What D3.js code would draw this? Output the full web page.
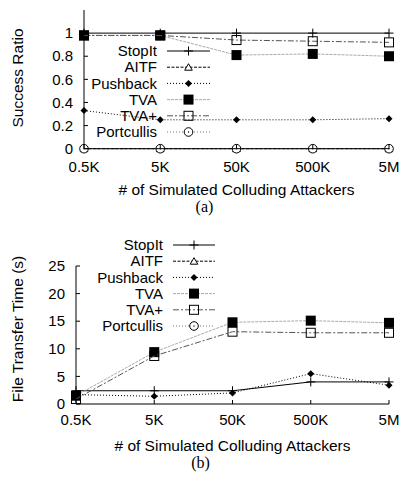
<!DOCTYPE html>
<html>
<head>
<meta charset="utf-8">
<script src="https://cdn.jsdelivr.net/npm/d3@7"></script>
<style>
  body { margin: 0; background: #fff; }
  svg { display: block; }
  text { font-family: "Liberation Sans", Arial, sans-serif; fill: #000; }
  .cap { font-family: "Liberation Serif", "Times New Roman", serif; }
</style>
</head>
<body>
<div id="chart"></div>
<script>
// categories on the x axis
const categories = ['0.5K', '5K', '50K', '500K', '5M'];
const seriesNames = ['StopIt', 'AITF', 'Pushback', 'TVA', 'TVA+', 'Portcullis'];

// (a) success ratio
const ratioStopIt = [1, 1, 1, 1, 1];
const ratioAITF = [0, 0, 0, 0, 0];
const ratioPushback = [0.33, 0.25, 0.25, 0.25, 0.26];
const ratioTVA = [0.98, 0.98, 0.81, 0.82, 0.80];
const ratioTVAplus = [0.98, 0.98, 0.94, 0.93, 0.92];
const ratioPortcullis = [0, 0, 0, 0, 0];
const ratioTicks = [0, 0.2, 0.4, 0.6, 0.8, 1];

// (b) file transfer time (s); AITF / Portcullis finish no transfers
const timeStopIt = [2.4, 2.4, 2.4, 4.0, 4.0];
const timeAITF = [null, null, null, null, null];
const timePushback = [1.7, 1.4, 2.0, 5.5, 3.4];
const timeTVA = [1.5, 9.4, 14.8, 15.1, 14.7];
const timeTVAplus = [0.9, 8.7, 13.1, 12.9, 12.9];
const timePortcullis = [null, null, null, null, null];
const timeTicks = [0, 5, 10, 15, 20, 25];

// line / marker style per series
const styles = {
    'StopIt':     { stroke: '#000', dash: null,      marker: 'plus' },
    'AITF':       { stroke: '#000', dash: '3,1.5',   marker: 'triangle' },
    'Pushback':   { stroke: '#000', dash: '1,2',     marker: 'diamond' },
    'TVA':        { stroke: '#aaa', dash: '3,1',     marker: 'square' },
    'TVA+':       { stroke: '#555', dash: '6,2,2,2', marker: 'openSquare' },
    'Portcullis': { stroke: '#777', dash: '1,2',     marker: 'circle' }
};

const W = 404, H = 485;
const svg = d3.select('#chart').append('svg')
    .attr('width', W)
    .attr('height', H);

const panels = [
    {
        values: [ratioStopIt, ratioAITF, ratioPushback, ratioTVA, ratioTVAplus, ratioPortcullis],
        ticks: ratioTicks, domain: [0, 1.2],
        x0: 84, x1: 389, yTop: 10, yBot: 148.7,
        yLabel: 'Success Ratio', yLabelY: 78,
        tickOff: 23, labelOff: 46, capOff: 63, cap: '(a)',
        legend: { textX: 157, lineX0: 167, lineX1: 210, y0: 51, step: 16.2 },
        fmt: d => d === 0 || d === 1 ? String(d) : d.toFixed(1)
    },
    {
        values: [timeStopIt, timeAITF, timePushback, timeTVA, timeTVAplus, timePortcullis],
        ticks: timeTicks, domain: [0, 25],
        x0: 76, x1: 389, yTop: 266, yBot: 404,
        yLabel: 'File Transfer Time (s)', yLabelY: 329,
        tickOff: 21, labelOff: 47, capOff: 64, cap: '(b)',
        legend: { textX: 163, lineX0: 173, lineX1: 215, y0: 245, step: 16.2 },
        fmt: d => String(d)
    }
];

function drawMarker(g, type, x, y, color) {
    const m = g.append('g').attr('transform', `translate(${x},${y})`);
    switch (type) {
        case 'plus':
            m.append('path').attr('d', 'M-4.5,0H4.5M0,-4.5V4.5')
                .attr('stroke', color).attr('stroke-width', 1);
            break;
        case 'triangle':
            m.append('path').attr('d', 'M0,-3.5L3.8,3L-3.8,3Z')
                .attr('fill', '#fff').attr('stroke', '#000').attr('stroke-width', 1);
            break;
        case 'diamond':
            m.append('path').attr('d', 'M0,-3.5L3.5,0L0,3.5L-3.5,0Z').attr('fill', '#000');
            break;
        case 'square':
            m.append('rect').attr('x', -5).attr('y', -5).attr('width', 10).attr('height', 10)
                .attr('fill', '#000');
            break;
        case 'openSquare':
            m.append('rect').attr('x', -4.5).attr('y', -4.5).attr('width', 9).attr('height', 9)
                .attr('fill', 'none').attr('stroke', '#000').attr('stroke-width', 1);
            break;
        case 'circle':
            m.append('circle').attr('r', 4.3)
                .attr('fill', '#fff').attr('stroke', '#000').attr('stroke-width', 1);
            m.append('circle').attr('r', 0.7).attr('fill', '#000');
            break;
    }
}

panels.forEach(p => {
    const x = d3.scalePoint().domain(categories).range([p.x0, p.x1]);
    const y = d3.scaleLinear().domain(p.domain).range([p.yBot, p.yTop]);
    const g = svg.append('g');

    // series lines and markers
    seriesNames.forEach((name, i) => {
        const st = styles[name];
        const pts = p.values[i].map((v, j) => ({ c: categories[j], v })).filter(d => d.v !== null);
        if (!pts.length) return;
        g.append('path')
            .datum(pts)
            .attr('fill', 'none')
            .attr('stroke', st.stroke)
            .attr('stroke-width', 1)
            .attr('stroke-dasharray', st.dash)
            .attr('d', d3.line().x(d => x(d.c)).y(d => y(d.v)));
        pts.forEach(d => drawMarker(g, st.marker, x(d.c), y(d.v), '#000'));
    });

    // axes
    const axes = svg.append('g');
    axes.append('line').attr('x1', p.x0).attr('x2', p.x0).attr('y1', p.yTop).attr('y2', p.yBot)
        .attr('stroke', '#000');
    axes.append('line').attr('x1', p.x0).attr('x2', p.x1).attr('y1', p.yBot).attr('y2', p.yBot)
        .attr('stroke', '#000');

    p.ticks.forEach(t => {
        axes.append('line').attr('x1', p.x0).attr('x2', p.x0 + 4)
            .attr('y1', y(t)).attr('y2', y(t)).attr('stroke', '#000');
        axes.append('text').attr('x', p.x0 - 11).attr('y', y(t))
            .attr('dy', '0.35em').attr('text-anchor', 'end')
            .style('font-size', '15px').text(p.fmt(t));
    });
    categories.forEach(c => {
        axes.append('line').attr('x1', x(c)).attr('x2', x(c))
            .attr('y1', p.yBot).attr('y2', p.yBot - 4).attr('stroke', '#000');
        axes.append('text').attr('x', x(c)).attr('y', p.yBot + p.tickOff)
            .attr('text-anchor', 'middle').style('font-size', '15px').text(c);
    });

    const xm = (p.x0 + p.x1) / 2;
    axes.append('text').attr('x', xm).attr('y', p.yBot + p.labelOff)
        .attr('text-anchor', 'middle').style('font-size', '15.5px')
        .text('# of Simulated Colluding Attackers');
    axes.append('text').attr('class', 'cap').attr('x', xm - 32).attr('y', p.yBot + p.capOff)
        .attr('text-anchor', 'middle').style('font-size', '16px').text(p.cap);
    axes.append('text')
        .attr('transform', `translate(23,${p.yLabelY}) rotate(-90)`)
        .attr('text-anchor', 'middle').style('font-size', '15.5px')
        .text(p.yLabel);

    // legend
    const lg = svg.append('g');
    seriesNames.forEach((name, i) => {
        const st = styles[name];
        const ly = p.legend.y0 + i * p.legend.step;
        lg.append('text').attr('x', p.legend.textX).attr('y', ly).attr('dy', '0.35em')
            .attr('text-anchor', 'end').style('font-size', '15px').text(name);
        lg.append('line').attr('x1', p.legend.lineX0).attr('x2', p.legend.lineX1)
            .attr('y1', ly).attr('y2', ly)
            .attr('stroke', st.stroke).attr('stroke-dasharray', st.dash);
        drawMarker(lg, st.marker, (p.legend.lineX0 + p.legend.lineX1) / 2, ly, '#000');
    });
});
</script>
</body>
</html>
